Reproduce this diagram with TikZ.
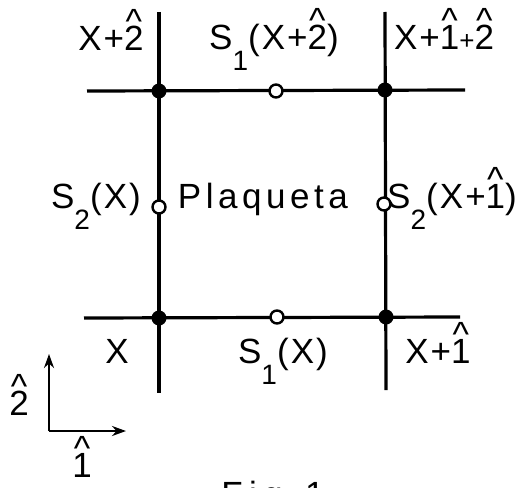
\documentclass[tikz,border=0pt]{standalone}
\usepackage{fontspec}
\setmainfont[LetterSpace=6]{Liberation Sans}
\usetikzlibrary{arrows.meta}
\newcommand\hatd[1]{\ooalign{#1\cr\hidewidth\raisebox{0.47em}{\symbol{"5E}}\hidewidth\cr}}
\newcommand\subd[1]{\raisebox{-0.6em}{\fontsize{28}{30}\selectfont #1}}
\begin{document}
\begin{tikzpicture}[x=1pt,y=-1pt,
  font=\fontsize{35}{40}\selectfont,
  lbl/.style={anchor=base,inner sep=0pt},
  grid/.style={line width=3.2pt},
  dot/.style={circle,fill=black,inner sep=0pt,minimum size=15pt},
  site/.style={circle,draw=black,fill=white,line width=2.4pt,inner sep=0pt,minimum size=13pt},
  axis/.style={line width=2.6pt,-{Stealth[length=14pt,width=10pt]}}]
\useasboundingbox (0,0) rectangle (532,487);
% frame coordinates
\coordinate (Lt) at (159,12);  \coordinate (Lb) at (159,393);
\coordinate (Rt) at (385,12);  \coordinate (Rb) at (386,390);
\coordinate (Tl) at (87,91);   \coordinate (Tr) at (465,90);
\coordinate (Bl) at (84,318);  \coordinate (Br) at (460,317);
\draw[grid] (Lt) -- (Lb);
\draw[grid] (Rt) -- (Rb);
\draw[grid] (Tl) -- (Tr);
\draw[grid] (Bl) -- (Br);
% lattice sites
\node[dot] (xa) at (159,91) {};
\node[dot] (xb) at (385,90) {};
\node[dot] (xc) at (159,318) {};
\node[dot] (xd) at (386,317) {};
% link variables
\node[site] (o1) at (276,91) {};
\node[site] (o2) at (277,317) {};
\node[site] (o3) at (159,207) {};
\node[site] (o4) at (384,204) {};
% labels
\node[lbl] (t1) at (111,50) {X+\hatd{2}};
\node[lbl] (t2) at (274,49) {S\subd{1}(X+\hatd{2})};
\node[lbl] (t3) at (444,49) {X+\hatd{1}{\fontsize{26}{28}\selectfont +}\hatd{2}};
\node[lbl] (m1) at (96,208) {S\subd{2}(X)};
\node[lbl] (m2) at (263,208) {\addfontfeatures{LetterSpace=13}Plaqueta};
\node[lbl] (m3) at (452,208) {S\subd{2}(X+\hatd{1})};
\node[lbl] (b1) at (117,363) {X};
\node[lbl] (b2) at (283,363) {S\subd{1}(X)};
\node[lbl] (b3) at (438,363) {X+\hatd{1}};
% axes
\coordinate (O) at (49,431);
\coordinate (E2) at (49,354);
\coordinate (E1) at (126,431);
\draw[axis] (O) -- (E2);
\draw[axis] (O) -- (E1);
\node[lbl] (a2) at (19,415) {\hatd{2}};
\node[lbl] (a1) at (82,477) {\hatd{1}};
\node[lbl] (fig) at (273,506) {\addfontfeatures{LetterSpace=18}Fig.1};
\end{tikzpicture}
\end{document}
